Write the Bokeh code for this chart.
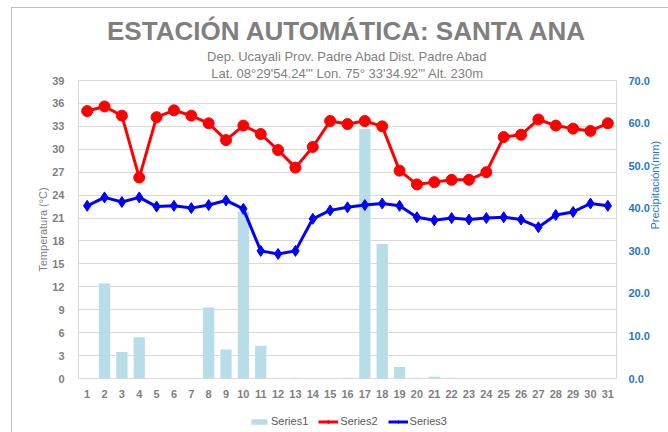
import math
from bokeh.plotting import figure
from bokeh.layouts import column
from bokeh.models import (Range1d, LinearAxis, FixedTicker, Legend, LegendItem,
                          Title, ColumnDataSource, NumeralTickFormatter, InlineStyleSheet)
from bokeh.embed import file_html
from bokeh.resources import INLINE

days = list(range(1, 32))
precip = [0, 22.3, 6.2, 9.7, 0, 0, 0, 16.7, 6.8, 39.1, 7.7, 0.2, 0.2, 0, 0, 0.2,
          58.6, 31.6, 2.7, 0.2, 0.4, 0.2, 0, 0, 0, 0, 0, 0, 0, 0, 0]
tmax = [35.0, 35.6, 34.4, 26.3, 34.2, 35.1, 34.4, 33.4, 31.2, 33.1, 32.0, 29.9, 27.6,
        30.3, 33.7, 33.3, 33.7, 33.0, 27.2, 25.4, 25.7, 26.0, 26.0, 27.0, 31.6, 31.9,
        33.9, 33.1, 32.7, 32.4, 33.4]
tmin = [22.6, 23.7, 23.1, 23.7, 22.5, 22.6, 22.3, 22.7, 23.3, 22.2, 16.7, 16.3, 16.7,
        20.9, 22.0, 22.4, 22.7, 22.9, 22.6, 21.1, 20.7, 21.0, 20.8, 21.0, 21.1, 20.8,
        19.8, 21.4, 21.8, 22.9, 22.6]
temp_ticks = list(range(0, 40, 3))
precip_ticks = list(range(0, 71, 10))
series_names = ["Series1", "Series2", "Series3"]

FONT = "Liberation Sans"
GRAY = "#7f7f7f"
BLUE_AX = "#1f77c4"
BAR_C = "#b7dee8"
RED = "#ff0000"
BLUE = "#0000ff"

src = ColumnDataSource(dict(day=days, precip=precip, tmax=tmax, tmin=tmin))

p = figure(output_backend="svg", toolbar_location=None,
           x_range=Range1d(0.5, 31.5), y_range=Range1d(0, 39),
           min_border_left=78, min_border_right=52, min_border_top=80,
           min_border_bottom=22, frame_width=538, frame_height=298)
p.extra_y_ranges = {"precip": Range1d(0, 70)}

p.outline_line_color = "#d9d9d9"
p.background_fill_color = "white"
p.border_fill_color = "white"

p.xgrid.visible = False
p.ygrid.ticker = FixedTicker(ticks=temp_ticks)
p.ygrid.grid_line_color = "#d9d9d9"

p.xaxis.ticker = FixedTicker(ticks=days)
p.yaxis.ticker = FixedTicker(ticks=temp_ticks)
for ax in [p.xaxis[0], p.yaxis[0]]:
    ax.axis_line_color = "#d9d9d9"
    ax.major_tick_line_color = None
    ax.minor_tick_line_color = None
    ax.major_label_text_font = FONT
    ax.major_label_text_font_style = "bold"
    ax.major_label_text_font_size = "11px"
    ax.major_label_text_color = GRAY
p.xaxis.major_label_standoff = 5
p.yaxis.major_label_standoff = 8
p.yaxis.axis_label = "Temperatura (°C)"
p.yaxis.axis_label_text_font = FONT
p.yaxis.axis_label_text_font_style = "normal"
p.yaxis.axis_label_text_font_size = "11px"
p.yaxis.axis_label_text_color = GRAY
p.yaxis.axis_label_standoff = 0

rax = LinearAxis(y_range_name="precip", ticker=FixedTicker(ticks=precip_ticks),
                 formatter=NumeralTickFormatter(format="0.0"))
rax.axis_line_color = None
rax.major_tick_line_color = None
rax.minor_tick_line_color = None
rax.major_label_text_font = FONT
rax.major_label_text_font_style = "bold"
rax.major_label_text_font_size = "11px"
rax.major_label_text_color = BLUE_AX
rax.major_label_standoff = 6
rax.axis_label = "Precipitación(mm)"
rax.axis_label_text_font = FONT
rax.axis_label_text_font_style = "normal"
rax.axis_label_text_font_size = "11px"
rax.axis_label_text_color = BLUE_AX
rax.axis_label_standoff = 2
rax.axis_label_orientation = math.pi / 2
p.add_layout(rax, "right")

p.vbar(x="day", top="precip", width=0.65, source=src, y_range_name="precip",
       fill_color=BAR_C, line_color=None)
p.line(x="day", y="tmax", source=src, line_color=RED, line_width=3)
p.scatter(x="day", y="tmax", source=src, marker="circle", size=11,
          fill_color=RED, line_color=RED)
p.line(x="day", y="tmin", source=src, line_color=BLUE, line_width=3)
p.scatter(x="day", y="tmin", source=src, marker="diamond", size=11,
          fill_color=BLUE, line_color=BLUE)

p.add_layout(Title(text="Lat. 08°29'54.24'\" Lon. 75° 33'34.92'\" Alt. 230m", align="center",
                   text_font=FONT, text_font_size="13px", text_font_style="normal",
                   text_color=GRAY, standoff=0), "above")
p.add_layout(Title(text="Dep. Ucayali Prov. Padre Abad Dist. Padre Abad", align="center",
                   text_font=FONT, text_font_size="13px", text_font_style="normal",
                   text_color=GRAY, standoff=0), "above")
p.add_layout(Title(text="ESTACIÓN AUTOMÁTICA: SANTA ANA", align="center",
                   text_font=FONT, text_font_size="26px", text_font_style="bold",
                   text_color=GRAY, standoff=2), "above")

# legend strip below the chart (same glyph styles; its source holds one NaN so nothing is drawn)
lg = figure(output_backend="svg", toolbar_location=None, width=668, height=32,
            x_range=Range1d(0, 1), y_range=Range1d(0, 1),
            x_axis_type=None, y_axis_type=None, min_border=0)
lg.outline_line_color = None
lg.grid.visible = False
nan_src = ColumnDataSource(dict(x=[float("nan")], y=[float("nan")]))
gb = lg.vbar(x="x", top="y", width=0.5, source=nan_src, fill_color=BAR_C, line_color=None)
g2l = lg.line(x="x", y="y", source=nan_src, line_color=RED, line_width=3)
g2m = lg.scatter(x="x", y="y", source=nan_src, marker="circle", size=8,
                 fill_color=RED, line_color=RED)
g3l = lg.line(x="x", y="y", source=nan_src, line_color=BLUE, line_width=3)
g3m = lg.scatter(x="x", y="y", source=nan_src, marker="diamond", size=8,
                 fill_color=BLUE, line_color=BLUE)
legend = Legend(items=[LegendItem(label=series_names[0], renderers=[gb]),
                       LegendItem(label=series_names[1], renderers=[g2l, g2m]),
                       LegendItem(label=series_names[2], renderers=[g3l, g3m])],
                orientation="horizontal", location=(171, 5),
                label_text_font=FONT, label_text_font_size="11px",
                label_text_color="#595959", glyph_width=20, glyph_height=7,
                label_height=12, label_standoff=2, spacing=10, padding=2, margin=0,
                border_line_color=None, background_fill_alpha=0)
lg.add_layout(legend, "center")

# thin outer chart border (left and top edges, as in the reference)
border_css = InlineStyleSheet(css=""":host::after {
  content: ""; position: absolute; left: 11px; top: 7px; right: 0; bottom: 0;
  border-left: 1px solid #bfbfbf; border-top: 1px solid #bfbfbf;
  pointer-events: none; z-index: 10;
}""")
layout = column(p, lg, spacing=0, stylesheets=[border_css])
open("out.html", "w").write(file_html(layout, INLINE))
